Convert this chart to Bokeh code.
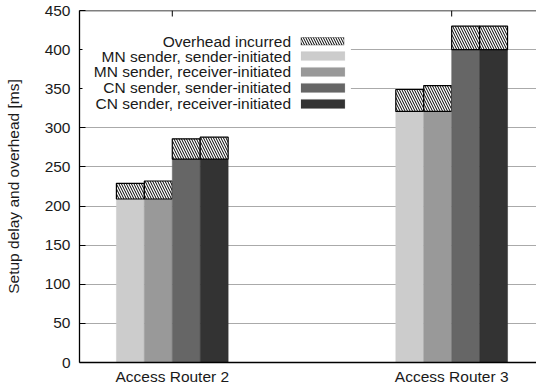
from bokeh.plotting import figure
from bokeh.models import FixedTicker, BoxAnnotation, Label, Range1d, Span
from bokeh.embed import file_html
from bokeh.resources import INLINE

# ---- data ----
routers = ["Access Router 2", "Access Router 3"]
series = ["MN sender, sender-initiated", "MN sender, receiver-initiated",
          "CN sender, sender-initiated", "CN sender, receiver-initiated"]
overhead_label = "Overhead incurred"
setup_mn_si = [209, 321]
setup_mn_ri = [209, 321]
setup_cn_si = [260, 400]
setup_cn_ri = [260, 400]
overhead_mn_si = [20, 28]
overhead_mn_ri = [23, 33]
overhead_cn_si = [26, 30]
overhead_cn_ri = [28, 30]
y_ticks = [0, 50, 100, 150, 200, 250, 300, 350, 400, 450]

# ---- style ----
colors = ["#cccccc", "#999999", "#666666", "#333333"]
offsets = [-0.15, -0.05, 0.05, 0.15]
bar_w = 0.1
FONT = "Liberation Sans"
TXT = "#1a1a1a"
Y_MAX = y_ticks[-1]

p = figure(width=536, height=387, output_backend="svg", toolbar_location=None,
           x_range=Range1d(-0.3321, 1.3036), y_range=Range1d(0, Y_MAX),
           min_border_left=79, min_border_right=0, min_border_top=10, min_border_bottom=20)
p.outline_line_color = None
p.background_fill_color = "white"
p.border_fill_color = "white"

setups = [setup_mn_si, setup_mn_ri, setup_cn_si, setup_cn_ri]
overs = [overhead_mn_si, overhead_mn_ri, overhead_cn_si, overhead_cn_ri]
for k in range(4):
    xs = [i + offsets[k] for i in range(len(routers))]
    p.vbar(x=xs, bottom=0, top=setups[k], width=bar_w,
           fill_color=colors[k], line_color=colors[k], line_width=0.5)
    tops = [s + o for s, o in zip(setups[k], overs[k])]
    p.vbar(x=xs, bottom=setups[k], top=tops, width=bar_w,
           fill_color="white", line_color="black", line_width=1.2,
           hatch_pattern="left_diagonal_line", hatch_color="black",
           hatch_scale=5, hatch_weight=1)

# grid
p.xgrid.grid_line_color = None
p.ygrid.ticker = FixedTicker(ticks=y_ticks[1:-1])
p.ygrid.grid_line_color = "#555555"
p.ygrid.grid_line_dash = "1 1"
p.ygrid.grid_line_width = 1

# axes
p.yaxis.ticker = FixedTicker(ticks=y_ticks)
p.yaxis.axis_label = "Setup delay and overhead [ms]"
p.yaxis.axis_label_text_font = FONT
p.yaxis.axis_label_text_font_style = "normal"
p.yaxis.axis_label_text_font_size = "15.5px"
p.yaxis.axis_label_text_color = TXT
p.yaxis.axis_label_standoff = 20
for ax in (p.xaxis[0], p.yaxis[0]):
    ax.major_label_text_font = FONT
    ax.major_label_text_font_size = "15.5px"
    ax.major_label_text_color = TXT
    ax.minor_tick_line_color = None
    ax.major_tick_out = 0
    ax.axis_line_color = "black"
    ax.axis_line_width = 1.3
    ax.major_tick_line_color = "black"
p.yaxis.major_tick_in = 6
p.yaxis.major_label_standoff = 9
p.xaxis.ticker = FixedTicker(ticks=list(range(len(routers))))
p.xaxis.major_label_overrides = {i: r for i, r in enumerate(routers)}
p.xaxis.major_tick_in = 0
p.xaxis.major_label_standoff = 5

# top border with inward ticks at the group positions
p.add_layout(Span(location=Y_MAX, dimension="width", line_color="black", line_width=1.5))
tick_len = 6 * Y_MAX / 352.0
p.segment(x0=list(range(len(routers))), x1=list(range(len(routers))),
          y0=[Y_MAX] * len(routers), y1=[Y_MAX - tick_len] * len(routers),
          line_color="black", line_width=1)

# ---- legend (text left, swatch right) ----
def dx(px):
    return (px - 173.0) / 280.0

def dy(py):
    return (363.0 - py) * 450.0 / 352.0

p.add_layout(BoxAnnotation(left=dx(83), right=dx(352), top=dy(32), bottom=dy(113),
                           fill_color="white", fill_alpha=1.0, line_color=None))
labels = [overhead_label] + series
row_y = [41.5, 56.6, 72.4, 88.4, 104.4]
for j, lab in enumerate(labels):
    yc = row_y[j]
    p.add_layout(Label(x=dx(292), y=dy(yc), text=lab, text_align="right",
                       text_baseline="middle", text_font=FONT,
                       text_font_size="15.5px", text_color=TXT))
    if j == 0:
        p.add_layout(BoxAnnotation(left=dx(302), right=dx(345), top=dy(38),
                                   bottom=dy(45.5), fill_color="white", fill_alpha=1,
                                   line_color="black", line_width=1.2,
                                   hatch_pattern="left_diagonal_line", hatch_color="black",
                                   hatch_scale=5, hatch_weight=1))
    else:
        c = colors[j - 1]
        p.add_layout(BoxAnnotation(left=dx(302), right=dx(346), top=dy(yc - 4.5),
                                   bottom=dy(yc + 4.5), fill_color=c, fill_alpha=1,
                                   line_color=c, line_width=0.5))

open("out.html", "w").write(file_html(p, INLINE))
